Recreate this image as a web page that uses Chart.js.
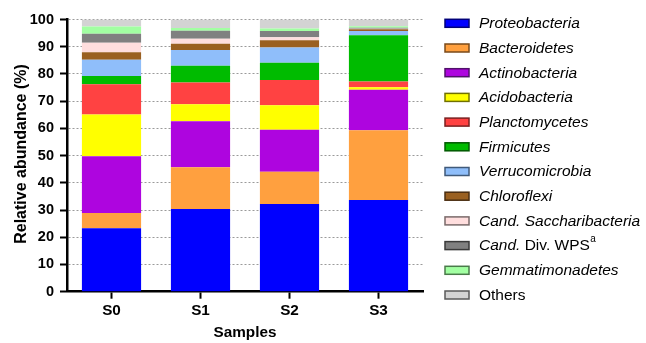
<!DOCTYPE html>
<html>
<head>
<meta charset="utf-8">
<script src="https://cdn.jsdelivr.net/npm/chart.js@4/dist/chart.umd.min.js"></script>
<style>
  html, body { margin: 0; padding: 0; background: #fff; }
  #wrap { width: 646px; height: 343px; position: relative; }
</style>
</head>
<body>
<div id="wrap"><canvas id="c" width="646" height="343"></canvas></div>
<script>
// ---- Data (relative abundance, %) ----
const samples = ['S0', 'S1', 'S2', 'S3'];
const yTicks = [0, 10, 20, 30, 40, 50, 60, 70, 80, 90, 100];

const proteobacteria     = [23.3, 30.4, 32.2, 33.7];
const bacteroidetes      = [5.6, 15.3, 11.9, 25.6];
const actinobacteria     = [20.9, 16.9, 15.4, 14.9];
const acidobacteria      = [15.3, 6.3, 9.0, 0.9];
const planctomycetes     = [11.1, 8.0, 9.3, 2.1];
const firmicutes         = [3.0, 6.1, 6.3, 17.0];
const verrucomicrobia    = [6.0, 5.8, 5.6, 1.6];
const chloroflexi        = [2.8, 2.3, 2.7, 0.6];
const candSaccharibacteria = [3.5, 1.8, 1.1, 0.2];
const candDivWPS         = [3.3, 3.0, 2.3, 0.4];
const gemmatimonadetes   = [2.6, 1.0, 0.9, 0.5];
const others             = [2.6, 3.1, 3.3, 2.5];

const seriesLabels = ['Proteobacteria', 'Bacteroidetes', 'Actinobacteria', 'Acidobacteria',
  'Planctomycetes', 'Firmicutes', 'Verrucomicrobia', 'Chloroflexi',
  'Cand. Saccharibacteria', 'Cand. Div. WPS', 'Gemmatimonadetes', 'Others'];
const seriesValues = [proteobacteria, bacteroidetes, actinobacteria, acidobacteria,
  planctomycetes, firmicutes, verrucomicrobia, chloroflexi,
  candSaccharibacteria, candDivWPS, gemmatimonadetes, others];

// ---- Styles ----
const fills = ['#0000FF', '#FFA03F', '#AE05DF', '#FFFF00', '#FF4242', '#00BB00',
  '#8FBEFA', '#9A6020', '#FFDEDE', '#808080', '#A2FFA2', '#D3D3D3'];
const edges = ['#00007A', '#7A4A1A', '#50106A', '#707000', '#7A2020', '#005A00',
  '#405A7A', '#4A2E10', '#7A6A6A', '#3A3A3A', '#4A7A4A', '#5A5A5A'];

const FONT = '"Liberation Sans", Arial, Helvetica, sans-serif';

const datasets = seriesLabels.map((lab, i) => ({
  label: lab,
  data: seriesValues[i],
  backgroundColor: fills[i],
  borderWidth: 0,
  categoryPercentage: 1.0,
  barPercentage: 0.665
}));

// Legend parts: [text, italic, superscript]
const legendParts = {
  'Cand. Saccharibacteria': [['Cand. Saccharibacteria', true, false]],
  'Cand. Div. WPS': [['Cand.', true, false], [' Div. WPS', false, false], ['a', false, true]],
  'Others': [['Others', false, false]]
};

const customDraw = {
  id: 'customDraw',
  afterDraw(chart) {
    const ctx = chart.ctx;
    ctx.save();
    // Legend
    const sx = 445, sw = 24, sh = 8, tx = 479, y0 = 23.3, step = 24.7;
    chart.data.datasets.forEach((ds, i) => {
      const y = y0 + i * step;
      ctx.fillStyle = ds.backgroundColor;
      ctx.fillRect(sx, y - sh / 2, sw, sh);
      ctx.strokeStyle = edges[i];
      ctx.lineWidth = 1.5;
      ctx.strokeRect(sx, y - sh / 2, sw, sh);
      const parts = legendParts[ds.label] || [[ds.label, true, false]];
      let x = tx;
      ctx.fillStyle = '#000';
      ctx.textBaseline = 'middle';
      ctx.textAlign = 'left';
      parts.forEach(([t, it, sup]) => {
        if (sup) {
          ctx.font = `10px ${FONT}`;
          ctx.fillText(t, x + 0.5, y - 6);
          x += ctx.measureText(t).width;
        } else {
          ctx.font = `${it ? 'italic ' : ''}15.5px ${FONT}`;
          ctx.fillText(t, x, y + 0.5);
          x += ctx.measureText(t).width;
        }
      });
    });
    // Axis titles
    ctx.fillStyle = '#000';
    ctx.font = `bold 15.3px ${FONT}`;
    ctx.textAlign = 'center';
    ctx.textBaseline = 'middle';
    ctx.fillText('Samples', 245, 333);
    ctx.translate(22, 154);
    ctx.rotate(-Math.PI / 2);
    ctx.font = `bold 16px ${FONT}`;
    ctx.fillText('Relative abundance (%)', 0, 0);
    ctx.restore();
  }
};

new Chart(document.getElementById('c'), {
  type: 'bar',
  data: { labels: samples, datasets },
  plugins: [customDraw],
  options: {
    responsive: false,
    animation: false,
    events: [],
    layout: { padding: { top: 19.5, right: 223, bottom: 0, left: 0 } },
    plugins: { legend: { display: false }, tooltip: { enabled: false }, title: { display: false } },
    scales: {
      x: {
        stacked: true,
        offset: true,
        grid: { display: true, offset: false, drawOnChartArea: false, drawTicks: true,
                tickLength: 7, tickColor: '#000', tickWidth: 2 },
        border: { display: true, color: '#000', width: 2.5 },
        ticks: { color: '#000', padding: 3, font: { family: FONT, size: 15.3, weight: 'bold' } },
        afterFit(scale) { scale.height = 51.3; }
      },
      y: {
        stacked: true,
        min: 0, max: 100,
        afterBuildTicks(scale) { scale.ticks = yTicks.map(v => ({ value: v })); },
        grid: {
          display: true, drawOnChartArea: true, drawTicks: true,
          color: (c) => c.tick && c.tick.value === 0 ? 'rgba(0,0,0,0)' : '#9a9a9a',
          lineWidth: 1, tickLength: 7, tickColor: '#000', tickWidth: 2
        },
        border: { display: true, color: '#000', width: 2.5, dash: [2, 2] },
        ticks: { color: '#000', padding: 6, font: { family: FONT, size: 14.5, weight: 'bold' } },
        afterFit(scale) { scale.width = 67; }
      }
    }
  }
});
</script>
</body>
</html>
